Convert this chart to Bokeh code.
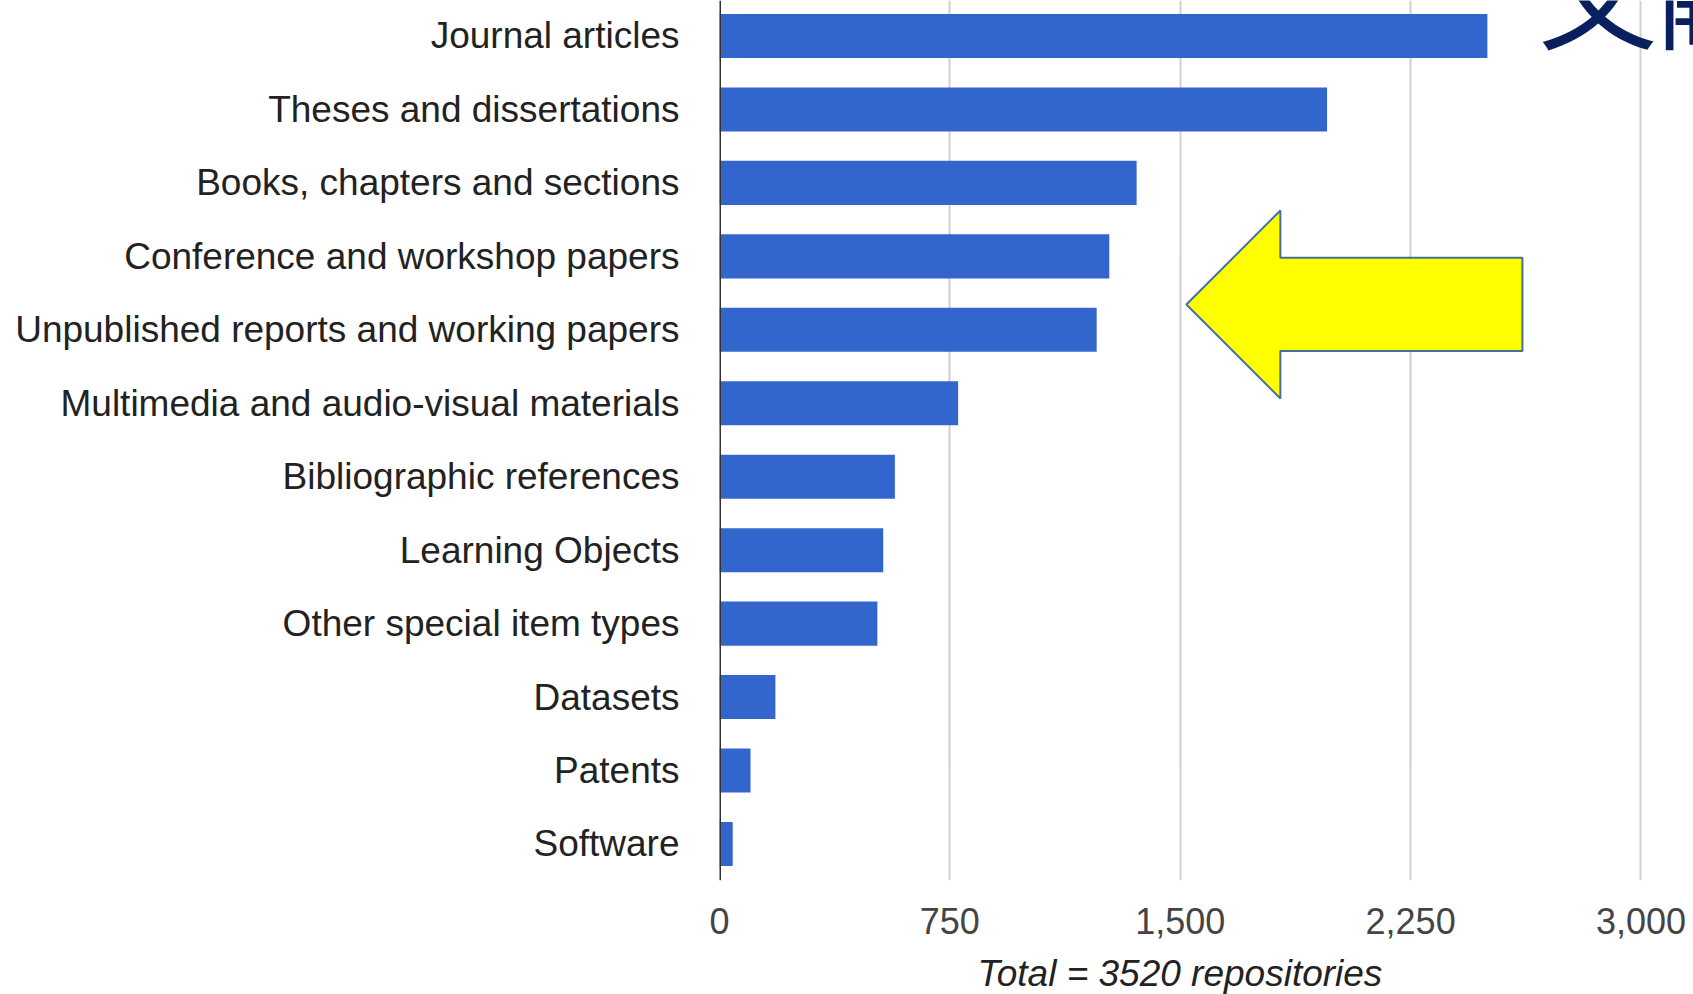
from bokeh.plotting import figure
from bokeh.models import (FixedTicker, NumeralTickFormatter, Span, Label, Range1d,
                          ColumnDataSource, Title)
from bokeh.embed import file_html
from bokeh.resources import INLINE

# ---- data ----
categories = [
    "Journal articles",
    "Theses and dissertations",
    "Books, chapters and sections",
    "Conference and workshop papers",
    "Unpublished reports and working papers",
    "Multimedia and audio-visual materials",
    "Bibliographic references",
    "Learning Objects",
    "Other special item types",
    "Datasets",
    "Patents",
    "Software",
]
counts = [2500, 1978, 1358, 1269, 1228, 777, 571, 533, 514, 182, 101, 43]
x_ticks = [0, 750, 1500, 2250, 3000]
axis_title = "Total = 3520 repositories"
slide_title = "文献"

# arrow outline (data units: repositories, row index with Software = 0)
arrow_x = [1520, 1826, 1826, 2614, 2614, 1826, 1826]
arrow_y = [7.344, 8.624, 7.98, 7.98, 6.71, 6.71, 6.064]

n = len(categories)
ypos = [n - 1 - i for i in range(n)]
src = ColumnDataSource(dict(y=ypos, right=counts, cat=categories))

FONT = "Liberation Sans"

p = figure(width=1693, height=1010, output_backend="svg", toolbar_location=None,
           x_range=Range1d(0, 3171), y_range=Range1d(-0.497, 11.483),
           min_border_left=719, min_border_right=0, min_border_top=0,
           min_border_bottom=130)
p.outline_line_color = None
p.background_fill_color = "white"
p.border_fill_color = "white"

p.hbar(y="y", right="right", left=0, height=0.6, source=src,
       fill_color="#3366cc", line_color=None)

# grid
p.ygrid.grid_line_color = None
p.xgrid.ticker = FixedTicker(ticks=x_ticks)
p.xgrid.grid_line_color = "#d0d0d0"
p.xgrid.grid_line_width = 2

# baseline
p.add_layout(Span(location=0, dimension="height", line_color="#333333", line_width=3))

# axes
xa = p.xaxis[0]
xa.ticker = FixedTicker(ticks=x_ticks)
xa.formatter = NumeralTickFormatter(format="0,0")
xa.axis_line_color = None
xa.major_tick_line_color = None
xa.minor_tick_line_color = None
xa.major_tick_out = 0
xa.major_tick_in = 0
xa.major_label_standoff = 27
xa.major_label_text_font = FONT
xa.major_label_text_font_size = "36px"
xa.major_label_text_color = "#444444"

ya = p.yaxis[0]
ya.ticker = FixedTicker(ticks=ypos)
ya.major_label_overrides = {y: c for y, c in zip(ypos, categories)}
ya.axis_line_color = None
ya.major_tick_line_color = None
ya.minor_tick_line_color = None
ya.major_tick_out = 0
ya.major_tick_in = 0
ya.major_label_standoff = 40
ya.major_label_text_font = FONT
ya.major_label_text_font_size = "37px"
ya.major_label_text_color = "#222222"

# arrow
p.patch(arrow_x, arrow_y, fill_color="#ffff00", line_color="#41719c", line_width=2)

# axis title (below the tick labels)
p.add_layout(Title(text=axis_title, align="left", offset=258, standoff=29,
                   text_font=FONT, text_font_size="37px", text_font_style="italic",
                   text_color="#222222"), "below")

# partial slide title
p.add_layout(Label(x=2666, x_units="data", y=892, y_units="screen",
                   text=slide_title, text_align="left", text_baseline="alphabetic",
                   text_font="Noto Sans CJK SC", text_font_size="119px",
                   text_color="#0a1f5e"))

open("out.html", "w").write(file_html(p, INLINE))
